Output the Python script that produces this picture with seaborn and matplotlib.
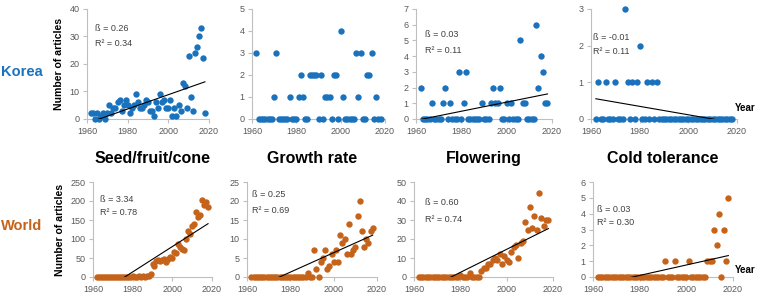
import matplotlib
matplotlib.use('Agg')
import numpy as np
import pandas as pd
import matplotlib.pyplot as plt
import seaborn as sns

# 연도 (x축)
years = list(range(1962, 2019))

# Korea
korea_seed = [2, 2, 0, 2, 0, 1, 2, 0, 2, 5,
              2, 4, 4, 6, 7, 3, 5, 7, 5, 2,
              4, 5, 9, 6, 4, 4, 5, 7, 6, 3,
              3, 1, 6, 4, 9, 6, 7, 4, 4, 7,
              1, 4, 1, 5, 3, 13, 12, 4, 23, 8,
              3, 24, 26, 30, 33, 22, 2]
korea_growth = [3, 0, 0, 0, 0, 0, 0, 0, 1, 3,
                0, 0, 0, 0, 0, 1, 0, 0, 0, 1,
                2, 1, 0, 0, 2, 2, 2, 2, 0, 2,
                0, 1, 1, 1, 0, 2, 2, 0, 4, 1,
                0, 0, 0, 0, 0, 3, 1, 3, 0, 0,
                2, 2, 3, 0, 1, 0, 0]
korea_flower = [2, 0, 0, 0, 0, 1, 0, 0, 0, 0,
                1, 2, 0, 1, 0, 0, 0, 3, 0, 1,
                3, 0, 0, 0, 0, 0, 0, 1, 0, 0,
                0, 1, 2, 1, 1, 2, 0, 0, 1, 0,
                1, 0, 0, 0, 5, 1, 1, 0, 0, 0,
                0, 6, 2, 4, 3, 1, 1]
korea_cold = [0, 1, 0, 0, 1, 0, 0, 0, 1, 0,
              0, 0, 3, 1, 0, 1, 0, 1, 2, 0,
              0, 1, 0, 1, 0, 1, 0, 0, 0, 0,
              0, 0, 0, 0, 0, 0, 0, 0, 0, 0,
              0, 0, 0, 0, 0, 0, 0, 0, 0, 0,
              0, 0, 0, 0, 0, 0, 0]

# World
world_seed = [0] * 18 + [2, 0, 0, 3, 0, 2, 0, 3, 2] + \
             [8, 35, 28, 42, 45, 43, 45, 47, 40, 48,
              52, 50, 65, 62, 88, 80, 75, 72, 100, 120,
              112, 135, 140, 172, 158, 162, 202, 190, 198, 184]
world_growth = [0] * 26 + \
               [1, 0, 0, 7, 2, 0, 4, 5, 7, 2,
                3, 6, 4, 7, 4, 11, 9, 10, 6, 14,
                6, 7, 8, 16, 20, 12, 8, 10, 9, 12, 13]
world_flower = [0] * 18 + [1, 0, 0, 0, 2, 0, 0, 0, 0] + \
               [3, 5, 5, 7, 7, 9, 10, 9, 12, 7,
                11, 9, 8, 13, 16, 17, 10, 18, 19, 29,
                25, 37, 26, 32, 25, 44, 31, 27, 30, 30]
world_cold = [0] * 29 + [1, 0, 0, 0, 1, 0, 0, 0, 0, 0,
                         1, 0, 0, 0, 0, 0, 0, 0, 1, 1,
                         1, 3, 2, 4, 0, 3, 1, 5]

titles = ['Seed/fruit/cone', 'Growth rate', 'Flowering', 'Cold tolerance']
series = [korea_seed, korea_growth, korea_flower, korea_cold,
          world_seed, world_growth, world_flower, world_cold]
y_max = [40, 5, 7, 3, 250, 25, 50, 6]
y_step = [10, 1, 1, 1, 50, 5, 10, 1]
beta_txt = ['0.26', None, '0.03', '-0.01', '3.34', '0.25', '0.60', '0.03']
r2_txt = ['0.34', None, '0.11', '0.11', '0.78', '0.69', '0.74', '0.30']
# 추세선: 기울기, y=0 이 되는 연도
slopes = [0.26, None, 0.029, -0.0115, 3.34, 0.256, 0.607, 0.033]
zero_year = [1966, None, 1963, 2010, 1976, 1975, 1976, 1977]

blue = '#1B72BC'
orange = '#C5631A'
grey_txt = '#595959'
axis_col = '#BFBFBF'

plt.rcParams['font.family'] = ['Liberation Sans', 'DejaVu Sans']

W, H = 757, 296
fig = plt.figure(figsize=(W / 100, H / 100), dpi=100)

# 각 패널 위치 (픽셀: 왼쪽, 오른쪽, 위, 아래)
boxes = [(87, 209, 9, 119), (252, 385, 9, 119), (416, 552, 9, 119), (591, 737, 9, 119),
         (93, 212, 182, 277), (247, 377, 182, 277), (414, 553, 182, 277), (593, 733, 182, 277)]
# 주석 위치 (axes 비율)
txt_pos = [(0.066, 0.82, 0.69), None, (0.066, 0.765, 0.62), (0.014, 0.745, 0.61),
           (0.06, 0.82, 0.675), (0.04, 0.865, 0.695), (0.08, 0.78, 0.61), (0.03, 0.715, 0.57)]

for i in range(8):
    x0, x1, yt, yb = boxes[i]
    ax = fig.add_axes([x0 / W, 1 - yb / H, (x1 - x0) / W, (yb - yt) / H])
    col = blue if i < 4 else orange
    df = pd.DataFrame({'year': years, 'n': series[i]})
    sns.scatterplot(data=df, x='year', y='n', ax=ax, color=col, s=21,
                    linewidth=0, clip_on=False, zorder=3)
    if slopes[i] is not None:
        trend = [slopes[i] * (y - zero_year[i]) for y in years]
        sns.lineplot(x=years, y=trend, ax=ax, color='black', lw=0.8, zorder=4)
    ax.set_xlim(1960, 2020)
    ax.set_ylim(0, y_max[i])
    ax.set_xticks([1960, 1980, 2000, 2020])
    ax.set_yticks(np.arange(0, y_max[i] + 1, y_step[i]))
    ax.set_xlabel('')
    ax.set_ylabel('')
    for s in ['top', 'right']:
        ax.spines[s].set_visible(False)
    for s in ['left', 'bottom']:
        ax.spines[s].set_color(axis_col)
        ax.spines[s].set_linewidth(0.8)
    ax.tick_params(direction='out', length=3, width=0.8, color=axis_col,
                   labelsize=6.5, labelcolor=grey_txt, pad=2.5)
    if beta_txt[i] is not None:
        tx, ty1, ty2 = txt_pos[i]
        ax.text(tx, ty1, 'ß = ' + beta_txt[i], transform=ax.transAxes,
                fontsize=6.5, color='#404040', va='center')
        ax.text(tx, ty2, 'R² = ' + r2_txt[i], transform=ax.transAxes,
                fontsize=6.5, color='#404040', va='center')
    if i in (0, 4):
        ax.set_ylabel('Number of articles', fontsize=7.6, fontweight='bold', labelpad=4)
    if i >= 4:
        ax.text(0.5, 1 + 24 / (yb - yt), titles[i - 4], transform=ax.transAxes,
                ha='center', va='center', fontsize=11.5, fontweight='bold')

fig.text(1 / W, 1 - 72 / H, 'Korea', ha='left', va='center',
         fontsize=10.5, fontweight='bold', color=blue)
fig.text(1 / W, 1 - 226 / H, 'World', ha='left', va='center',
         fontsize=10.5, fontweight='bold', color=orange)
fig.text(735 / W, 1 - 108 / H, 'Year', ha='left', va='center', fontsize=7, fontweight='bold')
fig.text(735 / W, 1 - 270 / H, 'Year', ha='left', va='center', fontsize=7, fontweight='bold')

plt.savefig('out.png', dpi=100)
plt.close()
